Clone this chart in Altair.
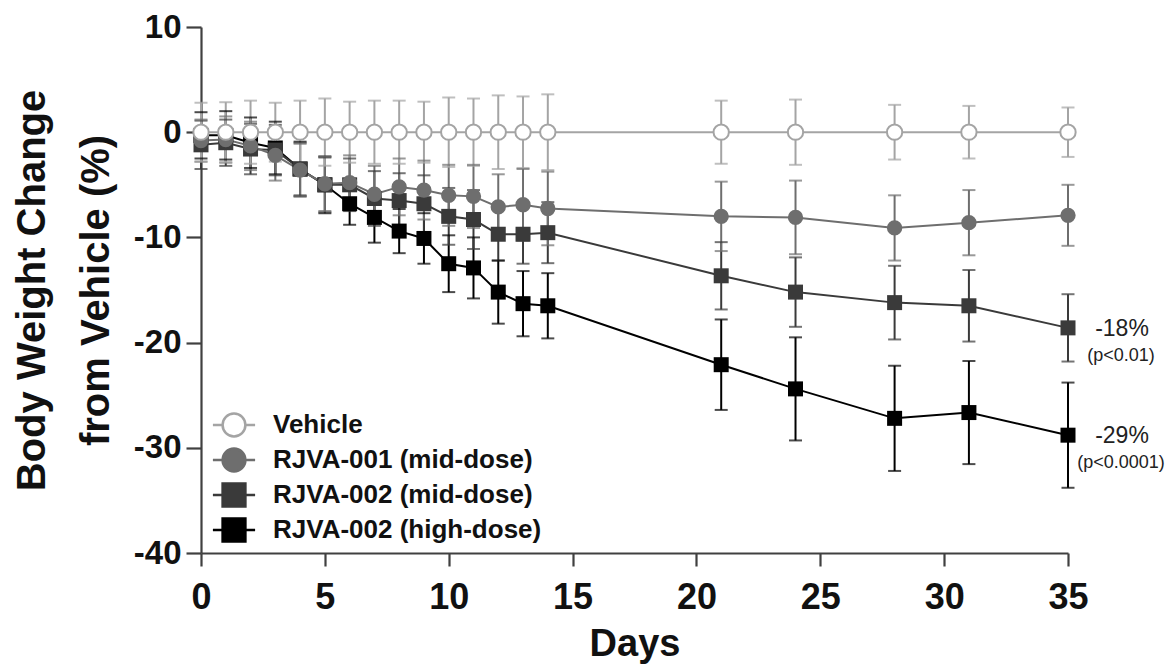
import altair as alt
import pandas as pd

# ---------------- data ----------------
days = [0, 1, 2, 3, 4, 5, 6, 7, 8, 9, 10, 11, 12, 13, 14, 21, 24, 28, 31, 35]

series_names = ["Vehicle", "RJVA-001 (mid-dose)", "RJVA-002 (mid-dose)", "RJVA-002 (high-dose)"]

vehicle_mean = [0.0, 0.0, 0.0, 0.0, 0.0, 0.0, 0.0, 0.0, 0.0, 0.0,
                0.0, 0.0, 0.0, 0.0, 0.0, 0.0, 0.0, 0.0, 0.0, 0.0]
vehicle_err = [2.8, 2.85, 3.0, 2.8, 3.0, 3.2, 2.9, 3.0, 3.0, 2.9,
               3.3, 3.2, 3.5, 3.4, 3.6, 3.0, 3.1, 2.6, 2.5, 2.35]

rjva001_mean = [-0.8, -0.7, -1.3, -2.2, -3.6, -4.9, -4.8, -5.9, -5.2, -5.5,
                -6.0, -6.1, -7.1, -6.9, -7.25, -8.0, -8.1, -9.1, -8.6, -7.9]
rjva001_err = [2.0, 2.2, 2.3, 2.4, 2.5, 2.6, 2.6, 2.7, 2.7, 2.8,
               2.9, 3.0, 3.1, 3.4, 3.5, 3.3, 3.5, 3.1, 3.1, 2.9]

rjva002m_mean = [-1.2, -1.0, -1.6, -1.7, -3.5, -5.0, -5.0, -6.3, -6.5, -6.8,
                 -8.0, -8.3, -9.7, -9.7, -9.55, -13.65, -15.2, -16.2, -16.5, -18.6]
rjva002m_err = [2.3, 2.2, 2.4, 2.4, 2.5, 2.6, 2.5, 2.6, 2.6, 2.7,
                2.7, 2.8, 2.5, 2.8, 2.9, 3.2, 3.3, 3.5, 3.4, 3.2]

rjva002h_mean = [-0.3, -0.3, -1.0, -1.5, -3.5, -5.0, -6.8, -8.1, -9.4, -10.1,
                 -12.5, -12.9, -15.2, -16.3, -16.5, -22.1, -24.4, -27.2, -26.65, -28.8]
rjva002h_err = [2.2, 2.3, 2.4, 2.5, 2.6, 2.7, 2.0, 2.4, 2.1, 2.4,
                2.7, 2.9, 3.0, 3.1, 3.1, 4.3, 4.9, 5.0, 4.9, 5.0]

x_ticks = [0, 5, 10, 15, 20, 25, 30, 35]
y_ticks = [-40, -30, -20, -10, 0, 10]

ann_pct = ["-18%", "-29%"]
ann_p = ["(p<0.01)", "(p<0.0001)"]

# ---------------- tables ----------------
means = {
    "Vehicle": (vehicle_mean, vehicle_err),
    "RJVA-001 (mid-dose)": (rjva001_mean, rjva001_err),
    "RJVA-002 (mid-dose)": (rjva002m_mean, rjva002m_err),
    "RJVA-002 (high-dose)": (rjva002h_mean, rjva002h_err),
}
rows = []
for s in reversed(series_names):  # draw high-dose first, vehicle last
    m, e = means[s]
    for d, mv, ev in zip(days, m, e):
        rows.append({"day": d, "series": s, "mean": mv, "lower": mv - ev, "upper": mv + ev})
df = pd.DataFrame(rows)

ann_df = pd.DataFrame({
    "day": [days[-1], days[-1]],
    "val": [rjva002m_mean[-1], rjva002h_mean[-1]],
    "pct": ann_pct,
    "p": ann_p,
})

# ---------------- styling ----------------
FONT = "Liberation Sans"
stroke_colors = ["#a4a4a4", "#6e6e6e", "#3a3a3a", "#000000"]
fill_colors = ["#ffffff", "#6e6e6e", "#3a3a3a", "#000000"]

circle_leg = "M-1.85,0H-1M1,0H1.85M-1,0A1,1,0,1,1,1,0A1,1,0,1,1,-1,0Z"
square_leg = "M-1.85,0H-1M1,0H1.85M-1,-1H1V1H-1Z"

x_axis = alt.Axis(values=x_ticks, title="Days", grid=False, tickSize=13, labelPadding=14,
                  labelFontSize=36, labelFontWeight="bold", titleFontSize=38,
                  titleFontWeight="bold", titlePadding=10, labelFlush=False)
y_axis = alt.Axis(values=y_ticks, title=["Body Weight Change", "from Vehicle (%)"], grid=False,
                  tickSize=15, labelPadding=5, labelFontSize=33, labelFontWeight="bold",
                  labelExpr="'' + datum.value",
                  titleFontSize=40, titleFontWeight="bold", titlePadding=17,
                  titleLineHeight=64, labelFlush=False)
x_scale = alt.Scale(domain=[0, 35], nice=False, zero=False)
y_scale = alt.Scale(domain=[-40, 10], nice=False, zero=False)


def X():
    return alt.X("day:Q", scale=x_scale, axis=x_axis)


def Y(field):
    return alt.Y(f"{field}:Q", scale=y_scale, axis=y_axis)


# colour scale for rules/lines/filled markers (domain order reversed so its
# hidden legend is not merged with the visible symbol legend)
color_enc = alt.Color("series:N",
                      scale=alt.Scale(domain=list(reversed(series_names)),
                                      range=list(reversed(stroke_colors))),
                      legend=None)

base = alt.Chart(df)

rules = base.mark_rule(strokeWidth=2).encode(x=X(), y=Y("lower"), y2="upper:Q", color=color_enc)
cap_lo = base.mark_tick(orient="horizontal", size=13, thickness=2).encode(x=X(), y=Y("lower"), color=color_enc)
cap_hi = base.mark_tick(orient="horizontal", size=13, thickness=2).encode(x=X(), y=Y("upper"), color=color_enc)
lines = base.mark_line(strokeWidth=2).encode(x=X(), y=Y("mean"), color=color_enc)

squares = base.transform_filter(
    alt.FieldOneOfPredicate(field="series", oneOf=series_names[2:])
).mark_point(shape="square", size=225, filled=True, opacity=1).encode(
    x=X(), y=Y("mean"), color=color_enc)

circles001 = base.transform_filter(
    alt.FieldEqualPredicate(field="series", equal=series_names[1])
).mark_point(shape="circle", size=235, filled=True, opacity=1).encode(
    x=X(), y=Y("mean"), color=color_enc)

circles_veh = base.transform_filter(
    alt.FieldEqualPredicate(field="series", equal=series_names[0])
).mark_point(shape="circle", size=235, filled=True, opacity=1, fill="#ffffff",
             stroke=stroke_colors[0], strokeWidth=2).encode(x=X(), y=Y("mean"))

leg = alt.Legend(title=None, orient="none", legendX=20, legendY=385, symbolSize=520,
                 symbolStrokeWidth=2.5, symbolOpacity=1, labelFont=FONT, labelFontWeight="bold",
                 labelFontSize=26, labelColor="#111111", labelOffset=26, labelLimit=0,
                 rowPadding=1, padding=0)

legend_layer = base.mark_point(filled=True, size=0).encode(
    x=X(), y=Y("mean"),
    shape=alt.Shape("series:N", scale=alt.Scale(domain=series_names,
                                                range=[circle_leg, circle_leg, square_leg, square_leg]),
                    legend=leg),
    fill=alt.Fill("series:N", scale=alt.Scale(domain=series_names, range=fill_colors), legend=leg),
    stroke=alt.Stroke("series:N", scale=alt.Scale(domain=series_names, range=stroke_colors), legend=leg),
)

ann_base = alt.Chart(ann_df)
ann_main = ann_base.mark_text(align="center", baseline="middle", dx=54, dy=1, fontSize=23,
                              font=FONT, color="#222222").encode(x=X(), y=Y("val"), text="pct:N")
ann_sub = ann_base.mark_text(align="center", baseline="middle", dx=53, dy=28, fontSize=18,
                             font=FONT, color="#222222").encode(x=X(), y=Y("val"), text="p:N")

chart = alt.layer(
    rules, cap_lo, cap_hi, lines, squares, circles001, circles_veh, legend_layer, ann_main, ann_sub
).properties(
    width=867, height=526,
    padding={"left": 193, "top": 19, "right": 100, "bottom": 111},
    autosize=alt.AutoSizeParams(type="none"),
    background="white",
).configure_view(stroke=None).configure_axis(
    domainColor="#404040", domainWidth=2.2, tickColor="#404040", tickWidth=2.2,
    labelColor="#111111", titleColor="#111111", labelFont=FONT, titleFont=FONT,
)

chart.save("out.html", embed_options={"renderer": "svg", "actions": False})
